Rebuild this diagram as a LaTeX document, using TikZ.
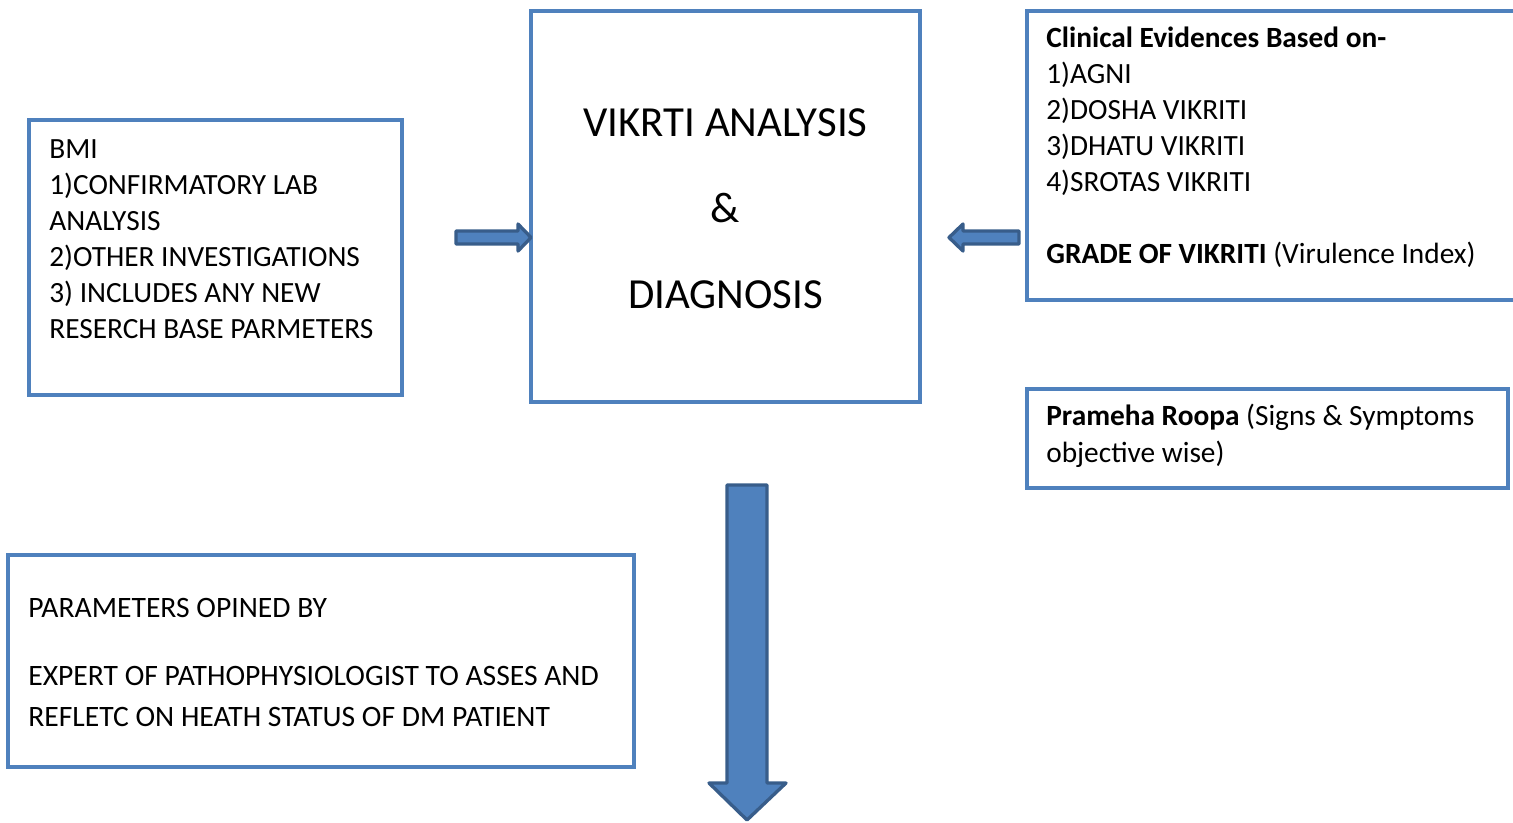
\documentclass[tikz,border=0pt]{standalone}
\usepackage{fontspec}
\setmainfont{Carlito}
\usetikzlibrary{positioning,calc}
\definecolor{boxblue}{HTML}{4F81BD}
\definecolor{arrowedge}{HTML}{385D8A}
\tikzstyle{panel}=[draw=boxblue, line width=2.3pt, rectangle, inner sep=0pt]
\tikzstyle{txt}=[anchor=base west, align=left, inner sep=0pt, font=\fontsize{16.7}{20.4}\selectfont]
\tikzstyle{blockarrow}=[draw=arrowedge, fill=boxblue, line width=1.9pt, line join=round]

\begin{document}
\begin{tikzpicture}[x=0.02cm, y=-0.02cm]
            \clip (0,0) rectangle (1513,822);

            % boxes
            \node[panel, minimum width=7.46cm, minimum height=5.50cm] (lab) at (215.5,257.5) {};
            \node[panel, minimum width=7.78cm, minimum height=7.82cm] (vikrti) at (725.5,206.5) {};
            \node[panel, minimum width=10.66cm, minimum height=5.78cm] (clinical) at (1293.5,155.5) {};
            \node[panel, minimum width=9.62cm, minimum height=1.98cm] (roopa) at (1267.5,438.5) {};
            \node[panel, minimum width=12.52cm, minimum height=4.24cm] (expert) at (321,661) {};

            % texts (anchored on the last baseline)
            \node[txt] (labtext) at (49,338) {BMI\\1)CONFIRMATORY LAB\\ANALYSIS\\2)OTHER INVESTIGATIONS\\3) INCLUDES ANY NEW\\RESERCH BASE PARMETERS};
            \node[anchor=base, align=center, inner sep=0pt, font=\fontsize{24.4}{48.8}\selectfont] (vikrtitext) at (725.5,308) {VIKRTI ANALYSIS\\\&\\DIAGNOSIS};
            \node[txt] (clinicaltext) at (1046,263) {\textbf{Clinical Evidences Based on-}\\1)AGNI\\2)DOSHA VIKRITI\\3)DHATU VIKRITI\\4)SROTAS VIKRITI\\[20.4pt]\textbf{GRADE OF VIKRITI} (Virulence Index)};
            \node[txt, font=\fontsize{16.7}{21}\selectfont] (roopatext) at (1046,462) {\textbf{Prameha Roopa} (Signs \& Symptoms\\objective wise)};
            \node[txt, font=\fontsize{16.85}{23.2}\selectfont] (experttext) at (28,726) {PARAMETERS OPINED BY\\[15.3pt]EXPERT OF PATHOPHYSIOLOGIST TO ASSES AND\\REFLETC ON HEATH STATUS OF DM PATIENT};

            % block arrows
            \coordinate (rin) at (456,237.5);
            \coordinate (lin) at (1019,237.5);
            \coordinate (din) at (747,485);
            \draw[blockarrow] ($(rin)+(0,-6.5)$) -- ++(62,0) -- ++(0,-7) -- ($(vikrti.west |- rin)+(2,0)$) -- ($(rin)+(62,13.5)$) -- ++(0,-7) -- ($(rin)+(0,6.5)$) -- cycle;
            \draw[blockarrow] ($(lin)+(0,-6.5)$) -- ++(-56,0) -- ++(0,-7) -- ($(lin)+(-70,0)$) -- ($(lin)+(-56,13.5)$) -- ++(0,-7) -- ($(lin)+(0,6.5)$) -- cycle;
            \draw[blockarrow] ($(din)+(-20,0)$) -- ++(40,0) -- ++(0,298) -- ++(19,0) -- ($(din)+(0,335)$) -- ($(din)+(-38,298)$) -- ++(18,0) -- cycle;
        \end{tikzpicture}
\end{document}
